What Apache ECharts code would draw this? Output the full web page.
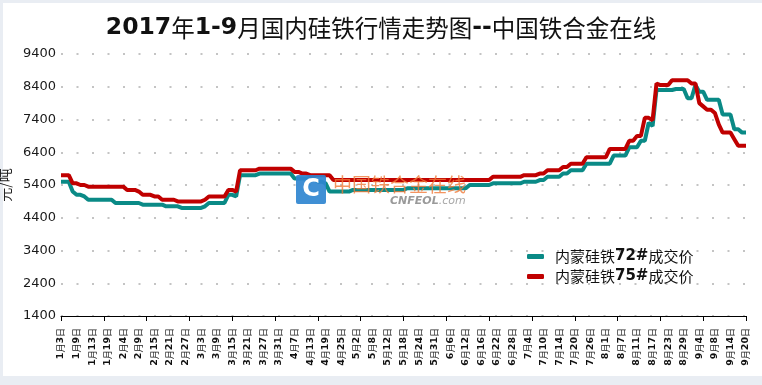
<!DOCTYPE html>
<html><head><meta charset="utf-8">
<script src="https://cdn.jsdelivr.net/npm/echarts@6/dist/echarts.min.js"></script>
<style>html,body{margin:0;padding:0;background:#fff}#c{width:762px;height:385px}</style>
</head><body><div id="c"></div>
<script>
// ---- data ----
const chartTitle = '2017年1-9月国内硅铁行情走势图--中国铁合金在线';
const yAxisName = '元/吨';
const dateLabels = ['1月3日','1月9日','1月13日','1月19日','2月4日','2月9日','2月15日','2月21日','2月27日',
  '3月3日','3月9日','3月15日','3月21日','3月27日','3月31日','4月7日','4月13日','4月19日','4月25日',
  '5月2日','5月8日','5月12日','5月18日','5月24日','5月31日','6月6日','6月12日','6月16日','6月22日','6月28日',
  '7月4日','7月10日','7月14日','7月20日','7月26日','8月1日','8月7日','8月11日','8月17日','8月23日','8月29日',
  '9月4日','9月8日','9月14日','9月20日'];
const pointsPerLabel = 4;
const yMin = 1400, yMax = 9400, yStep = 1000;
const seriesNames = ['内蒙硅铁72#成交价', '内蒙硅铁75#成交价'];
const price72 = [
  5500,5500,5500,5200,5100,5100,5050,4950,4950,4950,
  4950,4950,4950,4950,4850,4850,4850,4850,4850,4850,
  4850,4800,4800,4800,4800,4800,4800,4750,4750,4750,
  4750,4700,4700,4700,4700,4700,4700,4750,4850,4850,
  4850,4850,4850,5100,5100,5050,5700,5700,5700,5700,
  5700,5750,5750,5750,5750,5750,5750,5750,5750,5750,
  5600,5600,5600,5600,5600,5600,5500,5500,5450,5200,
  5200,5200,5200,5200,5200,5250,5250,5250,5250,5250,
  5250,5250,5250,5250,5250,5250,5250,5250,5250,5300,
  5300,5300,5300,5300,5300,5300,5300,5300,5300,5300,
  5300,5300,5300,5300,5300,5400,5400,5400,5400,5400,
  5400,5450,5450,5450,5450,5450,5450,5450,5450,5500,
  5500,5500,5500,5550,5550,5650,5650,5650,5650,5750,
  5750,5850,5850,5850,5850,6050,6050,6050,6050,6050,
  6050,6050,6300,6300,6300,6300,6550,6550,6550,6750,
  6750,7300,7200,8300,8300,8300,8300,8300,8330,8330,
  8330,8050,8050,8450,8250,8250,8000,8000,8000,8000,
  7550,7550,7550,7100,7100,7000,7000
];
const price75 = [
  5700,5700,5700,5450,5450,5400,5400,5350,5350,5350,
  5350,5350,5350,5350,5350,5350,5350,5250,5250,5250,
  5200,5100,5100,5100,5050,5050,4950,4950,4950,4950,
  4900,4900,4900,4900,4900,4900,4900,4950,5050,5050,
  5050,5050,5050,5250,5250,5200,5850,5850,5850,5850,
  5850,5900,5900,5900,5900,5900,5900,5900,5900,5900,
  5800,5800,5750,5750,5700,5700,5700,5700,5700,5700,
  5550,5550,5550,5550,5550,5550,5550,5550,5550,5550,
  5550,5550,5550,5550,5550,5550,5550,5550,5550,5550,
  5550,5550,5550,5550,5550,5550,5550,5550,5550,5550,
  5550,5550,5550,5550,5550,5550,5550,5550,5550,5550,
  5550,5650,5650,5650,5650,5650,5650,5650,5650,5700,
  5700,5700,5700,5750,5750,5850,5850,5850,5850,5950,
  5950,6050,6050,6050,6050,6250,6250,6250,6250,6250,
  6250,6500,6500,6500,6500,6500,6750,6750,6900,6900,
  7450,7450,7380,8500,8450,8450,8450,8600,8600,8600,
  8600,8600,8500,8500,7900,7800,7700,7700,7600,7250,
  7000,7000,7000,6800,6600,6600,6600
];

// ---- build ----
const categories = price72.map((v, i) => (i % pointsPerLabel === 0 && dateLabels[i / pointsPerLabel]) ? dateLabels[i / pointsPerLabel] : ('#' + i));
const cjk = '"Noto Sans CJK SC", sans-serif';
const latin = '"DejaVu Sans", sans-serif';
function richDate(s) {
  return s.replace(/(\d+)/g, '{d|$1}').replace(/([月日])/g, '{c|$1}');
}
const chart = echarts.init(document.getElementById('c'), null, {renderer: 'canvas'});
chart.setOption({
  backgroundColor: '#e9edf3',
  animation: false,
  title: {
    text: '{d|2017}{c|年}{d|1-9}{c|月国内硅铁行情走势图}{d|--}{c|中国铁合金在线}',
    left: 'center', top: 11,
    textStyle: {
      rich: {
        d: {fontFamily: latin, fontWeight: 'bold', fontSize: 23.5, color: '#111'},
        c: {fontFamily: cjk, fontWeight: 'normal', fontSize: 23.5, color: '#111'}
      }
    }
  },
  graphic: [
    {type: 'rect', z: -100, silent: true, shape: {x: 3, y: 3, width: 759, height: 373}, style: {fill: '#ffffff'}},
    {type: 'rect', z: 100, silent: true, shape: {x: 296, y: 175, width: 30, height: 29, r: 2}, style: {fill: '#2f86d0', opacity: 0.92}},
    {type: 'text', z: 101, silent: true, x: 311, y: 190, style: {text: 'C', font: 'bold 24px "DejaVu Sans"', fill: '#ffffff', align: 'center', verticalAlign: 'middle'}},
    {type: 'text', z: 101, silent: true, x: 333, y: 185, style: {text: '中国铁合金在线', font: '19px "Noto Sans CJK SC"', fill: '#f07a3a', opacity: 0.8, verticalAlign: 'middle'}},
    {type: 'text', z: 101, silent: true, x: 390, y: 201, style: {text: '{a|CNFEOL}{b|.com}', verticalAlign: 'middle',
      rich: {a: {font: 'italic bold 11px "DejaVu Sans"', fill: '#9a9a9a'}, b: {font: 'italic 11px "DejaVu Sans"', fill: '#a8a8a8'}}}}
  ],
  legend: {
    orient: 'vertical', left: 522, top: 244,
    itemWidth: 17, itemHeight: 5, itemGap: 5,
    icon: 'roundRect',
    data: seriesNames,
    formatter: n => n.replace(/^(.*?)(\d+#)(.*)$/, '{a|$1}{b|$2}{a|$3}'),
    textStyle: {
      padding: [0, 0, 0, 6],
      rich: {
        a: {fontFamily: cjk, fontSize: 15, color: '#111', lineHeight: 15},
        b: {fontFamily: latin, fontWeight: 'bold', fontSize: 15, color: '#111', lineHeight: 15}
      }
    }
  },
  grid: {left: 61, right: 16, top: 54, bottom: 69, containLabel: false, outerBoundsMode: 'none'},
  xAxis: {
    type: 'category', data: categories, boundaryGap: false,
    axisLine: {show: true, lineStyle: {color: '#000', width: 1}},
    axisTick: {show: true, interval: 10, length: 5, lineStyle: {color: '#000', width: 1}},
    axisLabel: {
      interval: pointsPerLabel - 1, rotate: 90, margin: 12,
      formatter: (v) => richDate(v),
      rich: {
        d: {fontFamily: latin, fontWeight: 'bold', fontSize: 9.5, color: '#111'},
        c: {fontFamily: cjk, fontSize: 9, color: '#222'}
      }
    },
    splitLine: {show: false}
  },
  yAxis: {
    type: 'value', min: yMin, max: yMax, interval: yStep,
    name: yAxisName, nameLocation: 'middle', nameGap: 40, nameRotate: 90,
    nameTextStyle: {fontFamily: cjk, fontSize: 14, color: '#222'},
    axisLine: {show: false}, axisTick: {show: false},
    axisLabel: {margin: 5, fontFamily: latin, fontSize: 13, color: '#1a1a1a', formatter: v => String(v)},
    splitLine: {show: true, lineStyle: {color: '#c4c4c4', width: 2, type: [2, 13.5]}}
  },
  series: [
    {name: seriesNames[0], type: 'line', data: price72, symbol: 'none', smooth: false,
      lineStyle: {color: '#0a8a86', width: 4}, itemStyle: {color: '#0a8a86'}, z: 2},
    {name: seriesNames[1], type: 'line', data: price75, symbol: 'none', smooth: false,
      lineStyle: {color: '#c00000', width: 4}, itemStyle: {color: '#c00000'}, z: 3}
  ]
});
</script></body></html>
